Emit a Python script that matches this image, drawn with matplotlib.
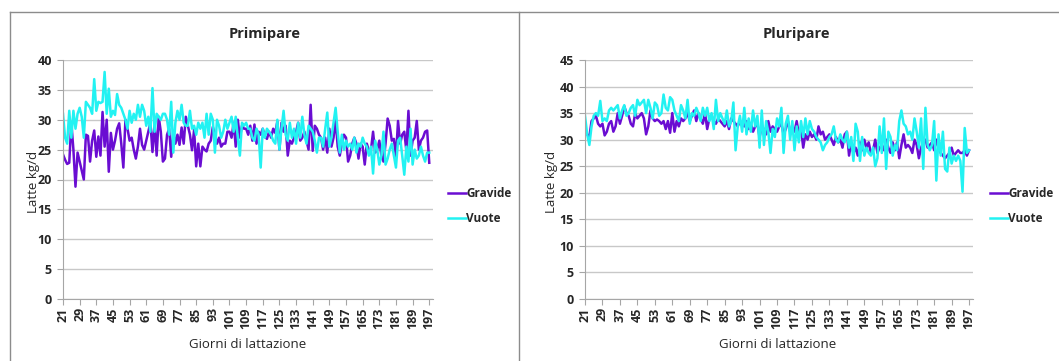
import numpy as np
import matplotlib
matplotlib.use("Agg")
import matplotlib.pyplot as plt
from matplotlib.lines import Line2D

plt.rcParams["font.family"] = ["Open Sans", "DejaVu Sans"]

# ── data: daily milk yield (kg/d), days 21..197 ─────────────────────────────
days = np.arange(21, 198)
tick_days = np.arange(21, 198, 8)

prim_gravide = [
    24.2, 23.3, 22.6, 22.8, 29.5, 25.0, 18.8, 24.5,
    23.0, 21.5, 20.0, 27.5, 27.3, 23.0, 26.5, 28.2,
    23.8, 27.2, 24.0, 31.3, 25.5, 30.0, 21.3, 27.8,
    25.0, 26.5, 28.5, 29.4, 26.0, 22.0, 30.0, 28.5,
    26.5, 27.0, 25.0, 23.5, 25.5, 28.5, 25.8, 25.0,
    26.5, 28.0, 29.5, 24.6, 29.5, 24.0, 30.5, 28.0,
    23.0, 23.5, 27.5, 28.5, 23.8, 28.0, 26.0, 27.5,
    25.8, 28.7, 26.0, 30.5, 29.0, 27.5, 24.9, 28.3,
    22.2, 26.0, 22.2, 25.5, 25.0, 24.7, 26.0, 26.5,
    28.8, 27.5, 26.0, 27.0, 25.5, 26.0, 26.0, 28.0,
    28.0, 27.0, 29.5, 25.5, 30.0, 27.0, 29.0, 28.5,
    28.5, 27.5, 29.0, 26.5, 29.2, 26.0, 28.0, 27.5,
    28.5, 27.2, 26.8, 28.0, 27.0, 28.5, 27.8, 29.7,
    25.0, 29.5, 28.0, 29.0, 24.0, 26.5, 26.0, 27.0,
    28.0, 29.5, 26.5, 27.0, 28.0, 26.5, 25.0, 32.5,
    24.8, 29.0, 28.5, 27.5, 27.0, 25.0, 27.0, 24.5,
    28.5, 25.5, 27.0, 30.0, 25.5, 24.0, 26.0, 27.5,
    27.0, 23.0, 24.0, 26.0, 27.0, 26.0, 23.5, 26.0,
    25.5, 22.5, 26.0, 24.8, 25.0, 28.0, 24.5, 25.0,
    26.5, 24.0, 23.0, 26.0, 30.2, 29.0, 26.5, 26.8,
    23.8, 29.8, 26.0, 27.5, 28.0, 24.8, 31.5, 24.0,
    26.5, 27.0, 29.8, 25.0, 26.5, 27.0, 28.0, 28.2,
    22.8,
]
prim_vuote = [
    31.0, 27.0, 26.0, 31.5, 27.0, 31.5, 28.5, 31.0,
    32.0, 30.5, 27.0, 33.0, 32.5, 32.0, 31.0, 36.8,
    31.5, 33.0, 32.8, 33.0, 38.0, 31.0, 35.2, 30.5,
    31.5, 30.8, 34.3, 32.5, 32.0, 31.0, 30.0, 28.5,
    31.5, 29.5, 31.0, 30.0, 32.5, 30.5, 32.5, 31.5,
    29.0, 30.5, 28.0, 35.3, 28.0, 31.0, 30.5, 30.0,
    31.0, 31.0, 30.0, 27.5, 33.0, 24.5, 29.5, 31.5,
    30.0, 32.5, 29.5, 29.0, 29.0, 31.5, 28.5, 29.0,
    27.5, 29.5, 28.5, 29.5, 27.0, 31.0, 27.5, 31.0,
    30.0, 24.5, 30.0, 29.0, 27.0, 28.0, 30.0, 28.5,
    29.5, 30.5, 28.0, 30.5, 27.0, 24.0, 29.5, 29.0,
    29.5, 28.5, 28.5, 27.0, 26.5, 28.5, 27.5, 22.0,
    28.5, 27.0, 28.5, 28.0, 27.5, 26.5, 26.0, 30.0,
    25.0, 28.5, 31.5, 27.5, 26.5, 29.5, 27.0, 28.5,
    26.0, 29.5, 27.0, 30.5, 27.5, 26.0, 29.0, 28.5,
    28.0, 26.5, 24.5, 27.0, 27.0, 25.5, 28.5, 31.2,
    25.5, 27.0, 29.5, 32.0, 28.0, 24.5, 27.5, 25.0,
    26.5, 25.5, 26.0, 25.0, 27.0, 24.5, 26.0, 25.5,
    27.0, 26.0, 25.5, 24.0, 25.5, 21.0, 26.5, 25.0,
    22.5, 24.0, 28.0, 22.5, 23.5, 25.0, 26.0, 24.0,
    22.0, 26.5, 27.0, 24.0, 20.8, 25.5, 23.0, 28.5,
    22.5, 25.0, 23.5, 24.0, 25.5, 24.0, 23.0, 24.5,
    24.5,
]
pluri_gravide = [
    31.3, 31.0, 30.5, 33.5, 34.0, 34.5, 33.0, 32.5,
    33.0, 30.8, 31.5, 33.0, 33.5, 31.5, 32.5, 35.0,
    33.0, 34.5, 36.3, 35.0, 34.5, 33.0, 32.5, 35.0,
    34.0, 34.5, 35.0, 34.0, 31.0, 32.5, 35.5, 34.0,
    33.5, 33.8, 33.5, 33.0, 33.5, 32.0, 33.5, 31.3,
    35.0, 31.5, 33.5, 32.5, 34.0, 33.5, 34.0, 35.0,
    33.5, 34.5, 35.5, 33.5, 35.0, 34.0, 33.0, 35.0,
    32.0, 34.0, 34.5, 33.5, 33.0, 34.0, 33.5, 33.0,
    32.5, 33.5, 32.0, 34.0, 33.5, 33.0, 32.5, 33.5,
    33.0, 32.5, 33.5, 32.0, 33.0, 31.5, 32.5, 33.0,
    30.5, 32.5, 32.0, 31.0, 33.5, 31.5, 32.5, 32.0,
    31.5, 32.5, 33.0, 31.0, 32.0, 33.5, 31.5, 32.0,
    31.5, 33.5, 31.0, 32.0, 28.5, 31.0, 30.0, 31.5,
    30.5, 31.0, 30.0, 32.5, 31.0, 31.5, 30.0, 30.5,
    31.0, 30.0, 29.0, 30.5, 29.5, 30.0, 28.5, 31.0,
    31.5, 27.0, 29.5, 27.5, 28.5, 27.0, 29.5, 28.0,
    30.0, 28.5, 29.5, 27.5, 28.0, 30.0, 27.5, 28.5,
    29.0, 28.0, 30.0, 28.5, 27.5, 29.5, 28.0, 29.5,
    26.5, 29.0, 31.0, 28.5, 29.0, 28.5, 27.5, 30.0,
    29.0, 26.5, 28.5, 29.5, 30.0, 28.5, 29.0, 29.5,
    28.0, 30.0, 28.5, 27.5, 27.0, 26.5, 27.0, 27.5,
    28.5, 27.0, 27.5, 28.0, 27.5, 27.5, 28.0, 27.0,
    28.0,
]
pluri_vuote = [
    34.5, 31.0, 29.0, 32.5, 34.5, 35.0, 34.5, 37.3,
    33.5, 34.0, 33.5, 35.5, 36.0, 35.5, 36.0, 36.5,
    34.0, 35.5, 36.5, 34.5, 35.0, 36.0, 36.5, 34.5,
    37.5, 36.5, 37.0, 37.5, 35.0, 37.5, 36.0, 34.0,
    37.0, 36.5, 34.5, 35.0, 38.5, 36.0, 35.5, 38.0,
    37.5, 35.5, 34.5, 33.5, 36.5, 35.5, 34.0, 37.5,
    33.0, 35.0, 34.5, 36.0, 35.0, 33.5, 36.0, 34.5,
    36.0, 33.5, 35.0, 32.0, 37.5, 33.5, 35.0, 34.0,
    33.0, 35.5, 32.5, 33.5, 37.0, 28.0, 32.5, 34.5,
    31.5, 36.0, 31.0, 34.0, 31.5, 35.5, 32.5, 34.5,
    28.5, 35.5, 29.0, 33.5, 31.5, 27.5, 32.0, 30.5,
    34.0, 32.5, 36.0, 27.5, 33.0, 34.5, 30.0, 33.5,
    28.0, 32.5, 29.5, 33.5, 30.5, 34.0, 31.0, 33.5,
    32.0, 31.5, 30.5, 30.0, 29.5, 28.0, 29.0, 29.5,
    30.5, 31.0, 32.5, 30.0, 29.5, 31.0, 30.0, 29.5,
    31.5, 28.5, 30.5, 26.0, 33.0, 31.5, 26.0, 30.5,
    27.0, 28.5, 27.5, 27.0, 28.5, 25.0, 26.5, 32.5,
    27.5, 34.0, 24.5, 31.5, 30.5, 27.0, 29.0, 28.0,
    33.5, 35.5, 33.0, 32.5, 31.0, 31.5, 30.0, 34.0,
    31.5, 28.5, 34.0, 24.5, 36.0, 29.0, 28.0, 29.0,
    33.5, 22.3, 31.0, 27.0, 31.5, 24.5, 24.0, 28.5,
    25.5, 27.0, 26.0, 27.0, 26.0, 20.2, 32.2, 27.5,
    28.0,
]

C_GRAV = "#6A0DD2"
C_VUOT = "#22F2F2"
GRID = "#C8C8C8"
TXT = "#262626"

W, H = 1059, 361
fig = plt.figure(figsize=(W / 100, H / 100), dpi=100)
fig.patch.set_facecolor("white")


def px(x, y):
    """pixel coords (top-left origin) -> figure fraction"""
    return x / W, 1 - y / H


# panel frames
fr = dict(color="#8C8C8C", lw=1.0, transform=fig.transFigure)
fig.add_artist(Line2D([10 / W, 1.0], [1 - 12 / H] * 2, **fr))
fig.add_artist(Line2D([10 / W] * 2, [0, 1 - 12 / H], **fr))
fig.add_artist(Line2D([519 / W] * 2, [0, 1 - 12 / H], **fr))

panels = [
    dict(title="Primipare", g=prim_gravide, v=prim_vuote, x0=63, x1=433,
         ymax=40, cx=265, xl=248, yl=33, leg=448),
    dict(title="Pluripare", g=pluri_gravide, v=pluri_vuote, x0=585, x1=973,
         ymax=45, cx=796, xl=778, yl=551, leg=990),
]

for p in panels:
    top, bot = 60, 299
    ax = fig.add_axes([p["x0"] / W, (H - bot) / H,
                       (p["x1"] - p["x0"]) / W, (bot - top) / H])
    lg, = ax.plot(days, p["g"], color=C_GRAV, lw=1.8, label="Gravide")
    lv, = ax.plot(days, p["v"], color=C_VUOT, lw=1.8, label="Vuote")

    ax.set_xlim(21, 198.8)
    ax.set_ylim(0, p["ymax"])
    ax.set_yticks(np.arange(0, p["ymax"] + 1, 5))
    ax.set_xticks(tick_days)
    ax.set_xticklabels([str(d) for d in tick_days], rotation=90)
    ax.yaxis.grid(True, color=GRID, lw=1.0)
    ax.set_axisbelow(True)
    for s in ("top", "right"):
        ax.spines[s].set_visible(False)
    for s in ("left", "bottom"):
        ax.spines[s].set_color("#A6A6A6")
    ax.tick_params(axis="both", colors="#A6A6A6", labelcolor=TXT,
                   labelsize=9, length=4)
    ax.tick_params(axis="x", pad=2)
    ax.tick_params(axis="y", pad=4)
    for t in ax.get_xticklabels() + ax.get_yticklabels():
        t.set_fontweight("bold")

    fig.text(*px(p["cx"], 34), p["title"], ha="center", va="center",
             fontsize=10.5, fontweight="bold", color=TXT)
    fig.text(*px(p["xl"], 344), "Giorni di lattazione", ha="center",
             va="center", fontsize=9.5, color=TXT)
    fig.text(*px(p["yl"], 182), "Latte kg/d", ha="center", va="center",
             rotation=90, fontsize=9.5, color=TXT)

    fig.legend(handles=[lg, lv], loc="center left",
               bbox_to_anchor=px(p["leg"], 206), frameon=False,
               handlelength=1.5, handletextpad=0.05, labelspacing=1.0,
               borderaxespad=0, borderpad=0,
               prop=dict(size=8.5, weight="bold"), labelcolor=TXT)

fig.savefig("out.png", dpi=100)
